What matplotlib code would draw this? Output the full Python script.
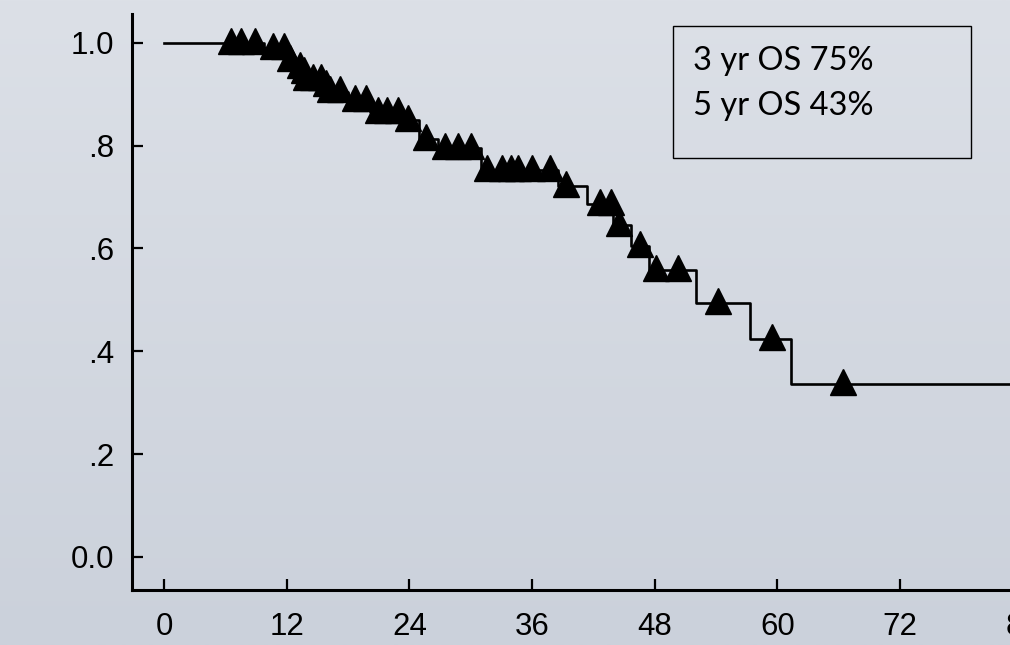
import matplotlib
matplotlib.use('Agg')
import matplotlib.pyplot as plt
from matplotlib.patches import Rectangle
import numpy as np

# survival curve: time (months) where each level starts, and the level
step_times = [0, 9.8, 12.0, 12.8, 13.5, 13.8, 15.6, 16.0, 18.0, 20.2, 23.5,
              24.9, 26.8, 31.0, 38.5, 41.4, 43.9, 45.7, 47.4, 52.0, 57.3, 61.3]
step_surv = [1.0, 0.990, 0.966, 0.953, 0.943, 0.930, 0.917, 0.905, 0.889,
             0.865, 0.849, 0.813, 0.796, 0.752, 0.721, 0.687, 0.646, 0.604,
             0.558, 0.494, 0.424, 0.336]
end_time = 90

# censored patients (triangles)
censor_times = [6.6, 7.5, 8.9, 10.7, 11.7, 12.3, 13.3, 13.7, 13.9, 14.6, 15.4,
                15.8, 16.2, 17.2, 18.7, 19.8, 20.9, 21.8, 22.9, 23.9, 25.6,
                27.5, 28.8, 30.0, 31.6, 33.1, 33.9, 34.6, 36.0, 37.8, 39.3,
                42.7, 43.7, 44.5, 46.6, 48.1, 50.3, 54.2, 59.5, 66.4]

x_ticks = [0, 12, 24, 36, 48, 60, 72, 84]
y_ticks = [0.0, 0.2, 0.4, 0.6, 0.8, 1.0]
y_labels = ['0.0', '.2', '.4', '.6', '.8', '1.0']
box_lines = ['3 yr OS 75%', '5 yr OS 43%']

W, H = 1010, 645
fig = plt.figure(figsize=(W / 100, H / 100), dpi=100)

# gradient background like the slide
bg = fig.add_axes([0, 0, 1, 1], zorder=-10)
top = np.array([220, 224, 231]) / 255.0
bot = np.array([203, 209, 219]) / 255.0
t = np.linspace(0, 1, 256)[:, None]
grad = (top[None, :] * (1 - t) + bot[None, :] * t)[:, None, :]
bg.imshow(grad, aspect='auto', extent=[0, 1, 0, 1])
bg.axis('off')

# axes runs past the right edge (84 tick is cut in the original)
ax = fig.add_axes([132 / W, 1 - 590 / H, (1084 - 132) / W, (590 - 14) / H])
ax.patch.set_alpha(0)

xs = list(step_times) + [end_time]
ys = list(step_surv) + [step_surv[-1]]
ax.step(xs, ys, where='post', color='black', lw=1.9, zorder=3)

st = np.array(step_times)
idx = np.searchsorted(st, censor_times, side='right') - 1
cy = np.array(step_surv)[idx]
ax.plot(censor_times, cy + 0.004, linestyle='none', marker='^', ms=19,
        mfc='black', mec='black', mew=1, zorder=4)

ax.set_xlim(-3.13, 90)
ax.set_ylim(-0.0642, 1.0558)
ax.set_xticks(x_ticks)
ax.set_xticklabels([str(v) for v in x_ticks])
ax.set_yticks(y_ticks)
ax.set_yticklabels(y_labels)

for s in ['top', 'right']:
    ax.spines[s].set_visible(False)
for s in ['left', 'bottom']:
    ax.spines[s].set_linewidth(2.2)

ax.tick_params(axis='both', direction='in', length=8, width=1.6,
               labelsize=22.5, colors='black')
ax.tick_params(axis='x', pad=16)
ax.tick_params(axis='y', pad=13)
for lab in ax.get_xticklabels() + ax.get_yticklabels():
    lab.set_family(['Liberation Sans', 'DejaVu Sans'])

# OS text box
fig.patches.append(Rectangle((672.7 / W, 1 - 158 / H), (971 - 672.7) / W,
                             (158 - 26) / H, transform=fig.transFigure,
                             fill=False, edgecolor='black', lw=1.0))
fig.text(693 / W, 1 - 70 / H, box_lines[0], fontsize=23.5, va='baseline',
         family=['Lato', 'DejaVu Sans'])
fig.text(693 / W, 1 - 115 / H, box_lines[1], fontsize=23.5, va='baseline',
         family=['Lato', 'DejaVu Sans'])

fig.savefig('out.png', dpi=100)
